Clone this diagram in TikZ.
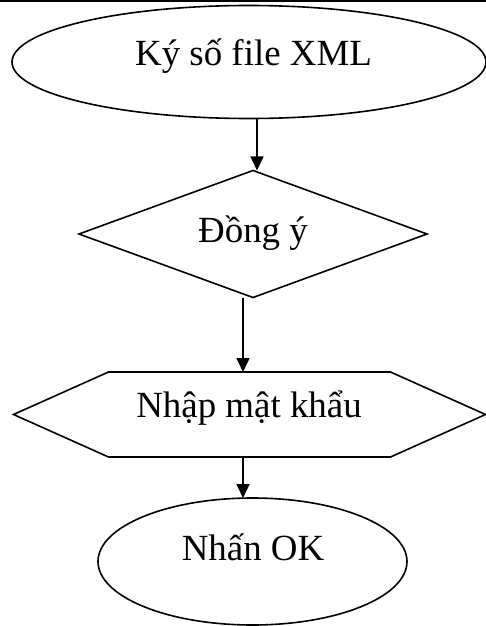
\documentclass[tikz,border=0pt]{standalone}
\usepackage{fontspec}
\setmainfont{Liberation Serif}
\usetikzlibrary{shapes.geometric,shapes.symbols,arrows.meta,calc}
\begin{document}
\begin{tikzpicture}[x=1bp,y=-1bp,
  shp/.style={draw,line width=1.6bp,inner sep=0pt,outer sep=0pt},
  oval/.style={shp,ellipse},
  dia/.style={shp,diamond},
  hexa/.style={shp,signal,signal to=east and west,signal pointer angle=48.2},
  lbl/.style={anchor=base,inner sep=0pt,font=\fontsize{36.9bp}{44bp}\selectfont},
  arr/.style={line width=1.6bp,-{Triangle[length=14bp,width=13bp]}}]
\useasboundingbox (0,0) rectangle (486,626);
\draw[line width=2bp] (0,1) -- (486,1);
\node[oval,minimum width=474bp,minimum height=113bp] (e1) at (249,62) {};
\node[lbl] (t1) at (253.5,66) {Ký số file XML};
\node[dia,minimum width=348bp,minimum height=127bp] (d) at (253,234) {};
\node[lbl] (t2) at (253,242) {Đồng ý};
\node[hexa,minimum width=472bp,minimum height=85bp] (h) at (249.5,414.5) {};
\node[lbl] (t3) at (249,417) {Nhập mật khẩu};
\node[oval,minimum width=309bp,minimum height=127bp] (e2) at (252.5,561.5) {};
\node[lbl] (t4) at (253,560) {Nhấn OK};
\coordinate (a1) at (257,0);
\coordinate (a2) at (243,0);
\draw[arr] (e1.south -| a1) -- (d.north -| a1);
\draw[arr] (d.south -| a2) -- (h.north -| a2);
\draw[arr] (h.south -| a2) -- (e2.north -| a2);
\end{tikzpicture}
\end{document}
